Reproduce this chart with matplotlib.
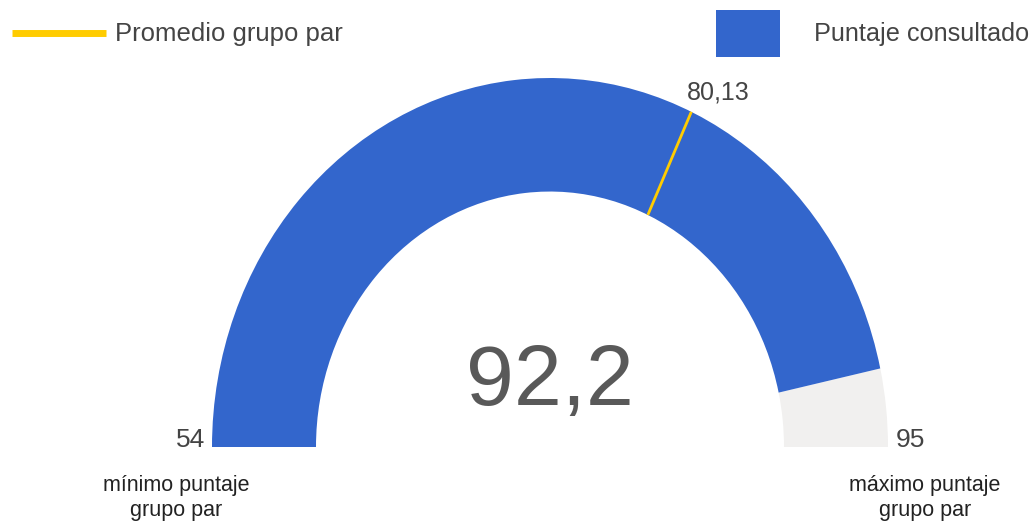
import numpy as np
import matplotlib
matplotlib.use("Agg")
import matplotlib.pyplot as plt
from matplotlib.patches import Wedge, Rectangle
from matplotlib.lines import Line2D

# valores del indicador
min_val = 54
max_val = 95
score = 92.2
avg = 80.13
min_label = "mínimo puntaje\ngrupo par"
max_label = "máximo puntaje\ngrupo par"
legend_labels = ["Promedio grupo par", "Puntaje consultado"]

blue = "#3366CC"
grey = "#F1F0EF"
yellow = "#FFCC00"
txt = "#444444"

plt.rcParams['font.family'] = ['Liberation Sans', 'DejaVu Sans']


def fmt(v):
    return ("%g" % v).replace(".", ",")


def ang(v):
    # 180 grados a la izquierda (min) -> 0 grados a la derecha (max)
    return 180.0 - (v - min_val) / (max_val - min_val) * 180.0


W, H = 1033, 524
fig = plt.figure(figsize=(W / 100, H / 100), dpi=100)

# ejes del medidor: x -1..1 -> px 212..888, y 0..1 -> px 447..78
ax = fig.add_axes([212 / W, (H - 447) / H, 676 / W, 369 / H])
ax.set_xlim(-1, 1)
ax.set_ylim(0, 1)
ax.axis("off")

r_in = 234 / 338
width = 1 - r_in

ax.add_patch(Wedge((0, 0), 1, 0, ang(score), width=width, facecolor=grey, edgecolor="none"))
ax.add_patch(Wedge((0, 0), 1, ang(score), 180, width=width, facecolor=blue, edgecolor="none"))

a = np.deg2rad(ang(avg))
ax.plot([r_in * np.cos(a), np.cos(a)], [r_in * np.sin(a), np.sin(a)],
        color=yellow, lw=2, solid_capstyle="butt")

ax.text(np.cos(a) - 0.012, np.sin(a) + 0.02, fmt(avg), ha="left", va="bottom",
        fontsize=18, color=txt, clip_on=False)
ax.text(0, (447 - 405) / 369, fmt(score), ha="center", va="baseline", fontsize=62,
        color="#595959")
ax.text(-1.02, 0, fmt(min_val), ha="right", va="baseline", fontsize=19, color=txt, clip_on=False)
ax.text(1.022, 0, fmt(max_val), ha="left", va="baseline", fontsize=19, color=txt, clip_on=False)

# etiquetas inferiores
fig.text(176 / W, 1 - 498 / H, min_label, ha="center", va="center", multialignment="center",
         fontsize=15.5, color="#222222", linespacing=1.25)
fig.text(925 / W, 1 - 498 / H, max_label, ha="center", va="center", multialignment="center",
         fontsize=15.5, color="#222222", linespacing=1.25)

# leyenda
fig.add_artist(Line2D([12 / W, 106 / W], [1 - 33 / H, 1 - 33 / H], color=yellow, lw=5,
                      solid_capstyle="butt", transform=fig.transFigure))
fig.text(115 / W, 1 - 34 / H, legend_labels[0], ha="left", va="center", fontsize=18.5, color=txt)
fig.add_artist(Rectangle((716 / W, 1 - 57 / H), 64 / W, 47 / H, facecolor=blue,
                         edgecolor="none", transform=fig.transFigure))
fig.text(1029 / W, 1 - 34 / H, legend_labels[1], ha="right", va="center", fontsize=18.2, color=txt)

fig.savefig("out.png", dpi=100, facecolor="white")
